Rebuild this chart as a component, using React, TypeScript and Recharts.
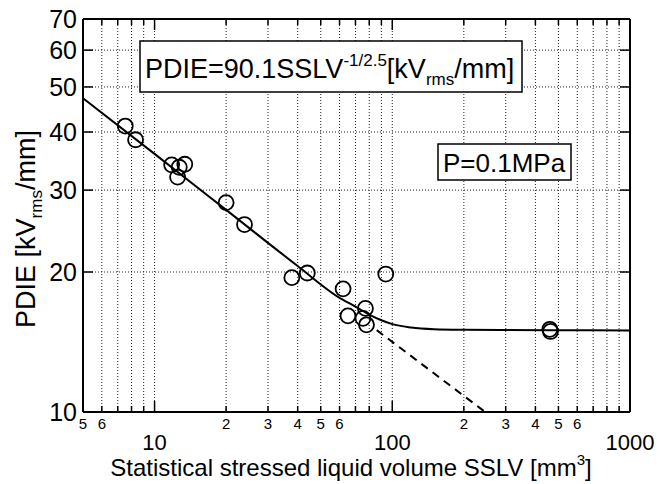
import React from 'react';
import {
  ComposedChart, Line, Scatter, XAxis, YAxis, CartesianGrid, ReferenceLine
} from 'recharts';

// measured breakdown points, SSLV [mm3] vs PDIE [kVrms/mm]
const volumeMeasured = [7.53, 8.32, 11.8, 12.7, 13.4, 12.5, 20.0, 23.9, 37.8, 43.9, 93.9, 62.1, 65.1, 77.1, 75.3, 77.9, 460, 463];
const pdieMeasured = [41.2, 38.5, 34.0, 33.6, 34.1, 32.0, 28.2, 25.3, 19.45, 19.9, 19.8, 18.4, 16.1, 16.7, 15.9, 15.4, 15.06, 14.9];

// fitted curve (solid)
const fitVolume = [5, 10, 20, 40, 60, 70, 80, 90, 100, 120, 150, 200, 300, 500, 1000];
const fitPdie = [47.3, 35.9, 27.2, 20.6, 17.6, 16.85, 16.2, 15.75, 15.45, 15.2, 15.07, 15.02, 15.0, 14.99, 14.97];

// extrapolated power law (dashed)
const extrapVolume = [86, 246];
const extrapPdie = [15.0, 10];

const xTicks = [5, 6, 7, 8, 9, 10, 20, 30, 40, 50, 60, 70, 80, 90, 100, 200, 300, 400, 500, 600, 700, 800, 900, 1000];
const yTicks = [10, 20, 30, 40, 50, 60, 70];

const W = 671;
const H = 484;
const PLOT_TOP = 19;
const PLOT_RIGHT = 630;
const FONT = '"Liberation Sans", Arial, Helvetica, sans-serif';

const measured = volumeMeasured.map((v, i) => ({ volume: v, pdie: pdieMeasured[i] }));
const fit = fitVolume.map((v, i) => ({ volume: v, pdie: fitPdie[i] }));
const extrap = extrapVolume.map((v, i) => ({ volume: v, pdie: extrapPdie[i] }));

const XTick = (props: any) => {
  const { x, y, payload } = props;
  const v = payload.value;
  const exp = Math.floor(Math.log10(v) + 1e-9);
  const mant = Math.round(v / Math.pow(10, exp));
  const major = mant === 1;
  const len = major ? 11 : 6;
  return (
    <g>
      <line x1={x} x2={x} y1={y} y2={y - len} stroke="#000" strokeWidth={1.5} />
      <line x1={x} x2={x} y1={PLOT_TOP} y2={PLOT_TOP + len} stroke="#000" strokeWidth={1.5} />
      {major && (
        <text x={x} y={y + 38} textAnchor="middle" fontSize={22} fontFamily={FONT} fill="#000">{v}</text>
      )}
      {!major && mant <= 6 && (
        <text x={x} y={y + 17} textAnchor="middle" fontSize={15} fontFamily={FONT} fill="#000">{mant}</text>
      )}
    </g>
  );
};

const YTick = (props: any) => {
  const { x, y, payload } = props;
  return (
    <g>
      <line x1={x} x2={x + 10} y1={y} y2={y} stroke="#000" strokeWidth={1.5} />
      <line x1={PLOT_RIGHT} x2={PLOT_RIGHT - 10} y1={y} y2={y} stroke="#000" strokeWidth={1.5} />
      <text x={x - 6} y={y} dy="0.36em" textAnchor="end" fontSize={25} fontFamily={FONT} fill="#000">
        {payload.value}
      </text>
    </g>
  );
};

const Circle = (props: any) => (
  <circle cx={props.cx} cy={props.cy} r={7.5} fill="none" stroke="#000" strokeWidth={1.8} />
);

const Annotations = () => (
  <g fontFamily={FONT} fill="#000">
    <rect x={140} y={41} width={382} height={51} fill="#fff" stroke="#000" strokeWidth={1.5} />
    <text x={145} y={78} fontSize={27}>
      PDIE=90.1SSLV
      <tspan fontSize={17} dy={-12}>-1/2.5</tspan>
      <tspan dy={12}>[kV</tspan>
      <tspan fontSize={17} dy={7}>rms</tspan>
      <tspan dy={-7}>/mm]</tspan>
    </text>
    <rect x={438} y={144} width={133} height={36} fill="#fff" stroke="#000" strokeWidth={1.5} />
    <text x={443} y={172} fontSize={26}>P=0.1MPa</text>
    <text transform="translate(35,229) rotate(-90)" textAnchor="middle" fontSize={27}>
      PDIE [kV
      <tspan fontSize={17} dy={7}>rms</tspan>
      <tspan dy={-7}>/mm]</tspan>
    </text>
    <text x={351} y={476} textAnchor="middle" fontSize={24}>
      Statistical stressed liquid volume SSLV [mm
      <tspan fontSize={15} dy={-11}>3</tspan>
      <tspan dy={11}>]</tspan>
    </text>
  </g>
);

export default function App() {
  return (
    <div style={{ position: 'absolute', left: 0, top: 0, width: W, height: H, background: '#fff' }}>
      <ComposedChart width={W} height={H} margin={{ top: 19, right: 41, bottom: 42, left: 23 }}>
        <CartesianGrid stroke="#222" strokeDasharray="1 2" strokeWidth={1} />
        <XAxis
          type="number"
          dataKey="volume"
          scale="log"
          domain={[5, 1000]}
          allowDataOverflow
          ticks={xTicks}
          interval={0}
          tick={<XTick />}
          tickLine={false}
          tickSize={0}
          tickMargin={0}
          height={30}
          axisLine={{ stroke: '#000', strokeWidth: 2 }}
        />
        <YAxis
          type="number"
          dataKey="pdie"
          scale="log"
          domain={[10, 70]}
          allowDataOverflow
          ticks={yTicks}
          interval={0}
          tick={<YTick />}
          tickLine={false}
          tickSize={0}
          tickMargin={0}
          width={60}
          axisLine={{ stroke: '#000', strokeWidth: 2 }}
        />
        <ReferenceLine y={70} stroke="#000" strokeWidth={2} />
        <ReferenceLine x={1000} stroke="#000" strokeWidth={2} />
        <Line data={fit} dataKey="pdie" type="monotone" stroke="#000" strokeWidth={2} dot={false} isAnimationActive={false} />
        <Line data={extrap} dataKey="pdie" type="linear" stroke="#000" strokeWidth={2} strokeDasharray="8 6" dot={false} isAnimationActive={false} />
        <Scatter data={measured} dataKey="pdie" shape={<Circle />} isAnimationActive={false} />
        <Annotations />
      </ComposedChart>
    </div>
  );
}
